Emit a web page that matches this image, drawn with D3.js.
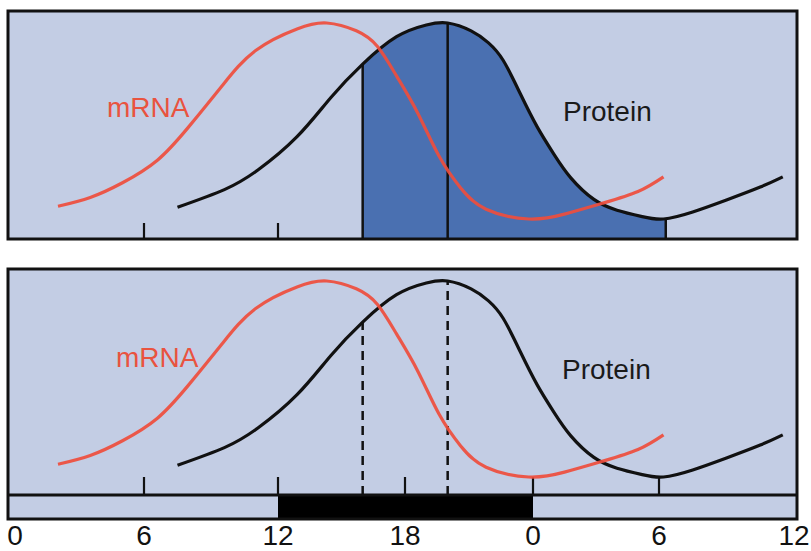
<!DOCTYPE html>
<html>
<head>
<meta charset="utf-8">
<script src="https://cdn.jsdelivr.net/npm/d3@7"></script>
<style>
  html, body { margin: 0; padding: 0; background: #fff; }
  svg { display: block; }
  text { font-family: "Liberation Sans", Arial, Helvetica, sans-serif; }
</style>
</head>
<body>
<svg id="chart" width="811" height="551"></svg>
<script>
// Time of day (hours, two cycles) and relative levels (0 = trough, 100 = peak)
const mrnaHours  = [2, 3.5, 5, 6.6, 8, 9.5, 11, 12.9, 14.3, 15.7, 16.7, 17.6, 18.6, 19.6, 20.6, 21.8, 23.8, 25.5, 27.3, 29, 30.2];
const mrnaLevels = [6.5, 11, 18.5, 30, 47, 68, 86, 97, 100, 96, 88, 73, 54, 32, 16, 5, 0, 2.5, 8, 14, 21.5];

const proteinHours  = [7.5, 9.6, 11.1, 12.9, 14.5, 16, 17.6, 19, 20, 21.1, 21.9, 22.6, 23.4, 24.2, 25, 25.8, 26.9, 28, 29.2, 30.2, 31.5, 33, 34.5, 35.5];
const proteinLevels = [6, 15, 25, 42, 62, 79, 93, 99, 100, 96, 90, 81, 64, 47, 33, 21, 10, 4.5, 1.2, 0, 3.6, 9.7, 16.3, 21.5];

// Axis: clock time over 36 hours
const tickHours  = [0, 6, 12, 18, 24, 30, 36];
const tickLabels = ["0", "6", "12", "18", "0", "6", "12"];
const topTickHours = [6, 12];
const bottomTickHours = [6, 12, 18, 24, 30];

// Dark phase of the light/dark bar
const darkStart = 12, darkEnd = 24;

// Marked times: rising edge and peak of protein; shaded span in the upper panel
const markHours = [16, 20];
const shadeStart = 16, shadeEnd = 30.3;

const COLORS = {
  bg: "#c3cde4",
  fill: "#4a70b1",
  red: "#ef4d3c",
  redText: "#e9533f",
  black: "#111111"
};

const svg = d3.select("#chart");

const x = d3.scaleLinear()
  .domain(tickHours)
  .range([15, 144, 278, 405, 533, 659, 794]);

const left = 8, right = 797;

const panels = [
  { top: 11, bottom: 239, y: d3.scaleLinear().domain([0, 100]).range([219, 23]),
    mrnaLabel: [107, 117], proteinLabel: [563, 121], base: 239 },
  { top: 269, bottom: 495, y: d3.scaleLinear().domain([0, 100]).range([477, 281]),
    mrnaLabel: [116, 367], proteinLabel: [562, 379], base: 495 }
];

const mrna = mrnaHours.map((h, i) => ({ h, v: mrnaLevels[i] }));
const protein = proteinHours.map((h, i) => ({ h, v: proteinLevels[i] }));

const curve = d3.curveNatural;

function levelAt(series, h) {
  const i = d3.bisector(d => d.h).left(series, h);
  if (i <= 0) return series[0].v;
  if (i >= series.length) return series[series.length - 1].v;
  const a = series[i - 1], b = series[i];
  return a.v + (b.v - a.v) * (h - a.h) / (b.h - a.h);
}

// ---------- Upper panel ----------
{
  const p = panels[0];
  const g = svg.append("g");
  g.append("rect")
    .attr("x", left).attr("y", p.top)
    .attr("width", right - left).attr("height", p.bottom - p.top)
    .attr("fill", COLORS.bg);

  svg.append("clipPath").attr("id", "shadeClip")
    .append("rect")
    .attr("x", x(shadeStart)).attr("y", p.top)
    .attr("width", x(shadeEnd) - x(shadeStart))
    .attr("height", p.bottom - p.top);

  const area = d3.area()
    .x(d => x(d.h)).y0(p.base).y1(d => p.y(d.v))
    .curve(curve);

  g.append("path")
    .datum(protein)
    .attr("clip-path", "url(#shadeClip)")
    .attr("d", area)
    .attr("fill", COLORS.fill);

  // boundary lines of the shaded span and the peak line
  g.selectAll("line.mark")
    .data([shadeStart, ...markHours.slice(1), shadeEnd])
    .join("line")
    .attr("class", "mark")
    .attr("x1", d => x(d)).attr("x2", d => x(d))
    .attr("y1", p.base)
    .attr("y2", d => p.y(levelAt(protein, d)))
    .attr("stroke", COLORS.black)
    .attr("stroke-width", 2.5);

  g.selectAll("line.tick")
    .data(topTickHours)
    .join("line")
    .attr("class", "tick")
    .attr("x1", d => x(d)).attr("x2", d => x(d))
    .attr("y1", p.base - 16).attr("y2", p.base)
    .attr("stroke", COLORS.black).attr("stroke-width", 2.2);
}

// ---------- Lower panel ----------
{
  const p = panels[1];
  const g = svg.append("g");
  g.append("rect")
    .attr("x", left).attr("y", p.top)
    .attr("width", right - left).attr("height", 519 - p.top)
    .attr("fill", COLORS.bg);

  // light/dark bar
  g.append("rect")
    .attr("x", x(darkStart)).attr("y", p.base)
    .attr("width", x(darkEnd) - x(darkStart)).attr("height", 519 - p.base)
    .attr("fill", "#000");
  g.append("line")
    .attr("x1", left).attr("x2", right)
    .attr("y1", p.base).attr("y2", p.base)
    .attr("stroke", COLORS.black).attr("stroke-width", 3);

  g.selectAll("line.mark")
    .data(markHours)
    .join("line")
    .attr("class", "mark")
    .attr("x1", d => x(d)).attr("x2", d => x(d))
    .attr("y1", p.base)
    .attr("y2", d => p.y(levelAt(protein, d)))
    .attr("stroke", COLORS.black)
    .attr("stroke-width", 2.5)
    .attr("stroke-dasharray", "9,6");

  g.selectAll("line.tick")
    .data(bottomTickHours)
    .join("line")
    .attr("class", "tick")
    .attr("x1", d => x(d)).attr("x2", d => x(d))
    .attr("y1", p.base - 18).attr("y2", p.base)
    .attr("stroke", COLORS.black).attr("stroke-width", 2.2);

  g.append("rect")
    .attr("x", left).attr("y", p.top)
    .attr("width", right - left).attr("height", 519 - p.top)
    .attr("fill", "none").attr("stroke", COLORS.black).attr("stroke-width", 3);

  svg.selectAll("text.hour")
    .data(tickHours)
    .join("text")
    .attr("class", "hour")
    .attr("x", d => x(d))
    .attr("y", 545)
    .attr("text-anchor", "middle")
    .attr("font-size", 28)
    .attr("fill", "#111")
    .text((d, i) => tickLabels[i]);
}

// ---------- Curves, labels and frames ----------
panels.forEach((p, idx) => {
  const line = d3.line()
    .x(d => x(d.h)).y(d => p.y(d.v))
    .curve(curve);

  svg.append("path")
    .datum(protein)
    .attr("d", line)
    .attr("fill", "none")
    .attr("stroke", COLORS.black)
    .attr("stroke-width", 3.2);

  svg.append("path")
    .datum(mrna)
    .attr("d", line)
    .attr("fill", "none")
    .attr("stroke", COLORS.red)
    .attr("stroke-width", 3.2)
    .attr("stroke-opacity", 0.92);

  svg.append("text")
    .attr("x", p.mrnaLabel[0]).attr("y", p.mrnaLabel[1])
    .attr("font-size", 28)
    .attr("fill", COLORS.redText)
    .text("mRNA");

  svg.append("text")
    .attr("x", p.proteinLabel[0]).attr("y", p.proteinLabel[1])
    .attr("font-size", 28)
    .attr("fill", "#1a1a1a")
    .text("Protein");

  if (idx === 0) {
    svg.append("rect")
      .attr("x", left).attr("y", p.top)
      .attr("width", right - left).attr("height", p.bottom - p.top)
      .attr("fill", "none").attr("stroke", COLORS.black).attr("stroke-width", 3);
  }
});
</script>
</body>
</html>
